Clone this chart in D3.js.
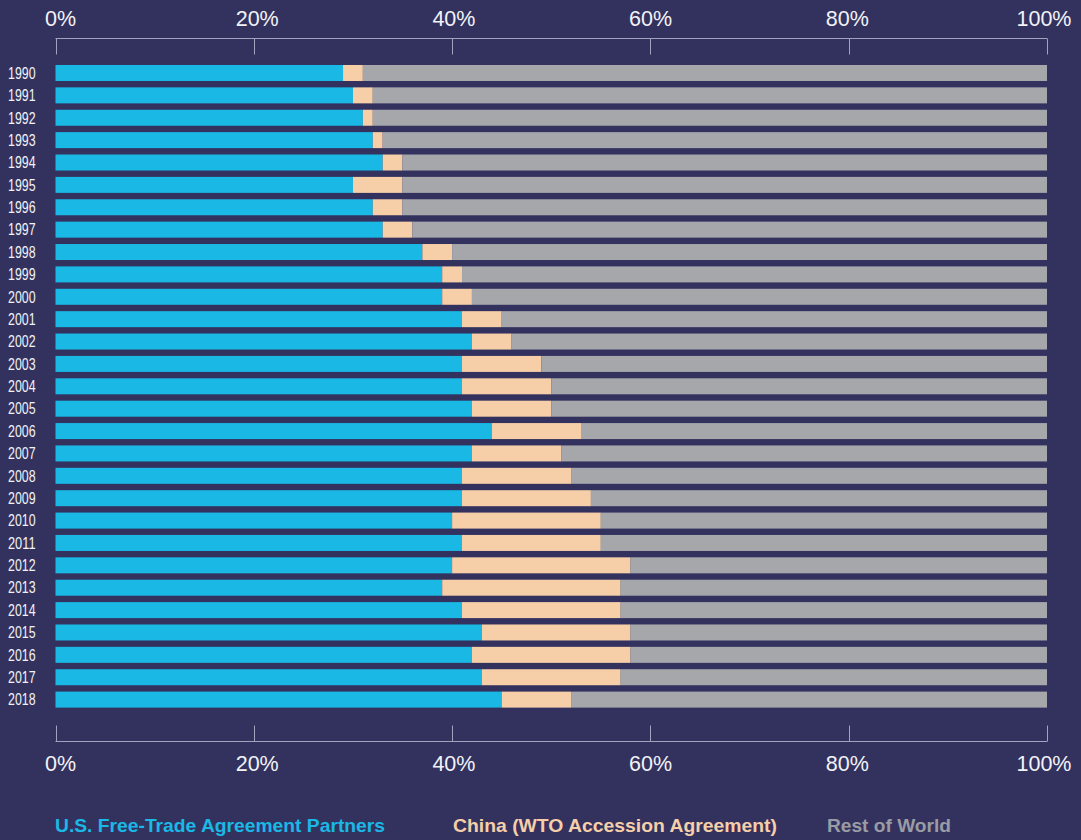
<!DOCTYPE html>
<html>
<head>
<meta charset="utf-8">
<script src="https://cdn.jsdelivr.net/npm/d3@7"></script>
<style>
  html, body { margin: 0; padding: 0; background: #33325f; }
  svg { display: block; }
</style>
</head>
<body>
<svg id="chart" width="1081" height="840"></svg>
<script>
// Share of U.S. imports by source, 1990–2018 (percent)
const years = ["1990","1991","1992","1993","1994","1995","1996","1997","1998","1999",
               "2000","2001","2002","2003","2004","2005","2006","2007","2008","2009",
               "2010","2011","2012","2013","2014","2015","2016","2017","2018"];
const ftaPartners = [29,30,31,32,33,30,32,33,37,39,39,41,42,41,41,42,44,42,41,41,40,41,40,39,41,43,42,43,45];
const china       = [ 2, 2, 1, 1, 2, 5, 3, 3, 3, 2, 3, 4, 4, 8, 9, 8, 9, 9,11,13,15,14,18,18,16,15,16,14, 7];
const restOfWorld = [69,68,68,67,65,65,65,64,60,59,58,55,54,51,50,50,47,49,48,46,45,45,42,43,43,42,42,43,48];
const tickValues  = [0, 20, 40, 60, 80, 100];
const tickLabels  = ["0%", "20%", "40%", "60%", "80%", "100%"];

const seriesKeys   = ["fta", "china", "rest"];
const seriesNames  = ["U.S. Free-Trade Agreement Partners", "China (WTO Accession Agreement)", "Rest of World"];
const seriesColors = ["#1ab8e5", "#f6cfa9", "#a6a7ab"];
const legendColors = ["#1ab8e5", "#f6cfa9", "#9a9ca4"];

const table = years.map((y, i) => ({
  year: y, fta: ftaPartners[i], china: china[i], rest: restOfWorld[i]
}));

const svg = d3.select("#chart");
const axisColor = "#a3a2c0";
const textColor = "#f2f2f7";

const x = d3.scaleLinear().domain([0, 100]).range([55.5, 1047]);
const xLabel = d3.scaleLinear().domain([0, 100]).range([60.5, 1044]);
const y = d3.scaleBand().domain(years).range([61.8, 710.8]).paddingInner(0.285).paddingOuter(0.1425);
const color = d3.scaleOrdinal().domain(seriesKeys).range(seriesColors);

const stacked = d3.stack().keys(seriesKeys)(table);

// stacked bars
svg.append("g")
  .selectAll("g")
  .data(stacked)
  .join("g")
    .attr("fill", d => color(d.key))
  .selectAll("rect")
  .data(d => d)
  .join("rect")
    .attr("x", d => x(d[0]))
    .attr("y", d => y(d.data.year))
    .attr("width", d => x(d[1]) - x(d[0]))
    .attr("height", y.bandwidth());

// year labels (condensed)
svg.append("g")
  .selectAll("text")
  .data(years)
  .join("text")
    .attr("x", 35.5)
    .attr("y", d => y(d) + y.bandwidth() / 2)
    .attr("dy", "0.36em")
    .attr("text-anchor", "end")
    .attr("fill", textColor)
    .attr("font-family", "'Liberation Sans', sans-serif")
    .attr("font-size", 16)
    .attr("textLength", 27.5)
    .attr("lengthAdjust", "spacingAndGlyphs")
    .text(d => d);

// percentage axes: top (ticks hang down) and bottom (ticks rise up)
function drawAxis(lineY, tickDir, labelY) {
  const g = svg.append("g");
  g.append("line")
    .attr("x1", x(0)).attr("x2", x(100))
    .attr("y1", lineY).attr("y2", lineY)
    .attr("stroke", axisColor).attr("stroke-width", 1);
  g.selectAll("line.tick")
    .data(tickValues)
    .join("line")
      .attr("class", "tick")
      .attr("x1", d => Math.round(x(d)) + 0.5).attr("x2", d => Math.round(x(d)) + 0.5)
      .attr("y1", lineY).attr("y2", lineY + tickDir * 16)
      .attr("stroke", axisColor).attr("stroke-width", 1);
  g.selectAll("text")
    .data(tickValues)
    .join("text")
      .attr("x", d => xLabel(d))
      .attr("y", labelY)
      .attr("text-anchor", "middle")
      .attr("fill", textColor)
      .attr("font-family", "'Liberation Sans', sans-serif")
      .attr("font-size", 21.5)
      .text((d, i) => tickLabels[i]);
}
drawAxis(38.5, 1, 26);
drawAxis(741.5, -1, 771);

// legend
const legendX = [55, 453, 827];
const legendWidths = [330, 324, 124];
svg.append("g")
  .selectAll("text")
  .data(seriesNames)
  .join("text")
    .attr("x", (d, i) => legendX[i])
    .attr("y", 832)
    .attr("fill", (d, i) => legendColors[i])
    .attr("font-family", "'Liberation Sans', sans-serif")
    .attr("font-weight", "bold")
    .attr("font-size", 19)
    .attr("textLength", (d, i) => legendWidths[i])
    .attr("lengthAdjust", "spacingAndGlyphs")
    .text(d => d);
</script>
</body>
</html>
